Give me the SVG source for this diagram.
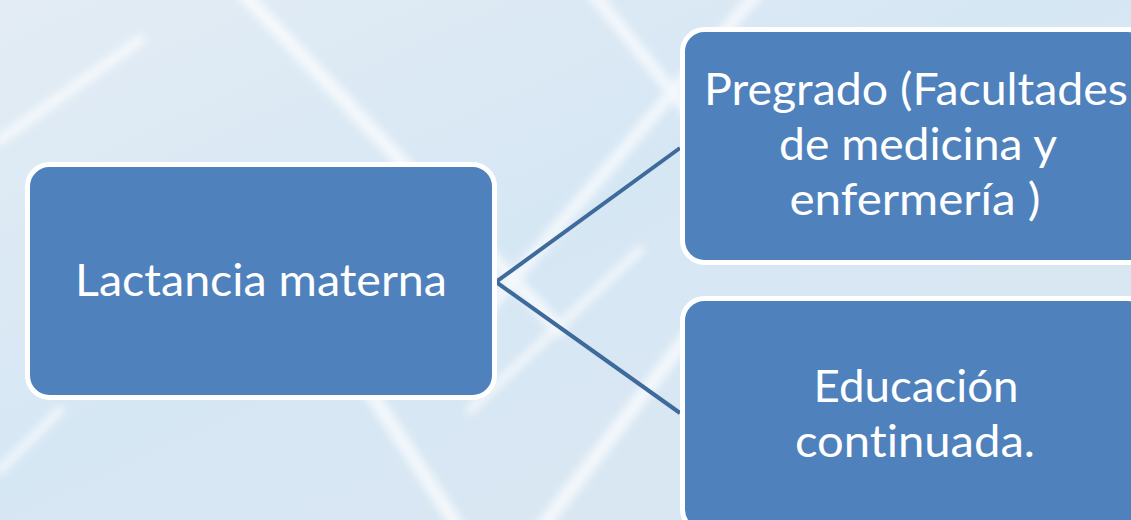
<svg xmlns="http://www.w3.org/2000/svg" width="1131" height="520" viewBox="0 0 1131 520">
  <defs>
    <linearGradient id="bg" x1="0" y1="0" x2="1" y2="1">
      <stop offset="0" stop-color="#e3ecf4"/>
      <stop offset="0.45" stop-color="#d6e7f4"/>
      <stop offset="1" stop-color="#dbe7f1"/>
    </linearGradient>
    <filter id="blur" x="-20%" y="-20%" width="140%" height="140%">
      <feGaussianBlur stdDeviation="4"/>
    </filter>
    <style>
      .box { fill: #4f81bd; stroke: #ffffff; stroke-width: 5; }
      .lbl { font-family: Lato, "Open Sans", sans-serif; font-size: 45px; fill: #ffffff; text-anchor: middle; font-variant-ligatures: none; font-feature-settings: "liga" 0, "dlig" 0; }
      .conn { fill: none; stroke: #3f6a9c; stroke-width: 4; stroke-linejoin: miter; }
      .deco { stroke: #ffffff; fill: none; stroke-linecap: round; }
    </style>
  </defs>
  <rect x="0" y="0" width="1131" height="520" fill="url(#bg)"/>
  <g id="background" filter="url(#blur)" opacity="0.7">
    <line class="deco" x1="240" y1="-10" x2="560" y2="330" stroke-width="14"/>
    <line class="deco" x1="590" y1="-10" x2="760" y2="200" stroke-width="12"/>
    <line class="deco" x1="760" y1="-10" x2="470" y2="330" stroke-width="12"/>
    <line class="deco" x1="0" y1="140" x2="140" y2="40" stroke-width="10"/>
    <line class="deco" x1="330" y1="330" x2="460" y2="530" stroke-width="14"/>
    <line class="deco" x1="700" y1="320" x2="540" y2="530" stroke-width="14"/>
    <line class="deco" x1="470" y1="410" x2="640" y2="250" stroke-width="8"/>
    <line class="deco" x1="0" y1="470" x2="60" y2="410" stroke-width="8"/>
  </g>
  <g id="connectors">
    <polyline class="conn" points="680,148 496,282 680,413"/>
  </g>
  <g id="node-lactancia">
    <rect class="box" x="27.5" y="164.5" width="467" height="233" rx="22" ry="22"/>
    <text class="lbl" x="261" y="296" textLength="372" lengthAdjust="spacingAndGlyphs">Lactancia materna</text>
  </g>
  <g id="node-pregrado">
    <rect class="box" x="682.5" y="29.5" width="467" height="233" rx="22" ry="22"/>
    <text class="lbl" x="916" y="105" textLength="424" lengthAdjust="spacingAndGlyphs">Pregrado (Facultades</text>
    <text class="lbl" x="918" y="160" textLength="278" lengthAdjust="spacingAndGlyphs">de medicina y</text>
    <text class="lbl" x="915" y="215" textLength="251" lengthAdjust="spacingAndGlyphs">enfermería )</text>
  </g>
  <g id="node-educacion">
    <rect class="box" x="682.5" y="298.5" width="467" height="233" rx="22" ry="22"/>
    <text class="lbl" x="916" y="402" textLength="205" lengthAdjust="spacingAndGlyphs">Educación</text>
    <text class="lbl" x="915" y="457" textLength="240" lengthAdjust="spacingAndGlyphs">continuada.</text>
  </g>
</svg>
